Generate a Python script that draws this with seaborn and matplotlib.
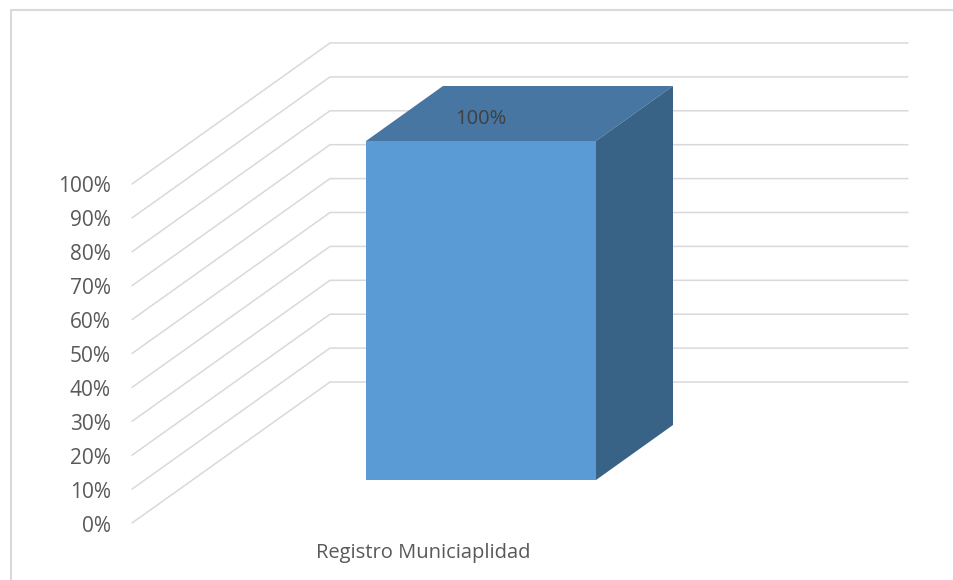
# plot.py
# Excel-style 3D column chart redrawn with seaborn + a bit of matplotlib

import pandas as pd
import matplotlib
matplotlib.use("Agg")
import matplotlib.pyplot as plt
import seaborn as sns
from matplotlib.patches import Polygon
from matplotlib.lines import Line2D
from matplotlib.transforms import IdentityTransform

# -- Data
categories = ["Registro Municiaplidad"]
values = [100]
data_labels = ["100%"]
tick_values = [0, 10, 20, 30, 40, 50, 60, 70, 80, 90, 100]
tick_labels = ["0%", "10%", "20%", "30%", "40%", "50%", "60%", "70%", "80%", "90%", "100%"]

# -- Settings
W, H = 954, 580
FRONT = "#5B9BD5"
TOP = "#4676A1"
SIDE = "#386386"
GRID = "#D9D9D9"
TEXT = "#595959"

# 3d depth offsets in pixels (x right, y up), relative to the bar's front face
BAR_DEPTH = (77, 55)
WALL = (138, 98)
FRONT_PLANE = (-60, -43)
FRONT_X = 132      # left end of the floor lines
WALL_RIGHT = 908   # right end of the back wall lines


def main():
    sns.set_theme(style="white")
    plt.rcParams["font.family"] = ["Open Sans", "DejaVu Sans"]

    fig = plt.figure(figsize=(W / 100, H / 100), dpi=100)
    ax = fig.add_axes([366 / W, 100 / H, 230 / W, 339 / H])

    df = pd.DataFrame({"cat": categories, "val": values})
    sns.barplot(data=df, x="cat", y="val", color=FRONT, saturation=1,
                width=0.8, linewidth=0, ax=ax, zorder=3)
    ax.set_xlim(-0.4, 0.4)
    ax.set_ylim(0, 100)
    ax.axis("off")

    ident = IdentityTransform()

    def px(x, y):
        return ax.transData.transform((x, y))

    # gridlines: floor diagonal + back wall
    for v, lab in zip(tick_values, tick_labels):
        by = px(0, v)[1]
        fy = by + FRONT_PLANE[1]
        wy = by + WALL[1]
        wx = FRONT_X + (WALL[0] - FRONT_PLANE[0])
        ln = Line2D([FRONT_X, wx, WALL_RIGHT], [fy, wy, wy], color=GRID,
                    lw=1.1, transform=ident, clip_on=False, zorder=1)
        ax.add_line(ln)
        ax.text(111, fy - 3, lab, ha="right", va="center", fontsize=15,
                color=TEXT, transform=ident, clip_on=False)

    # side + top faces of each bar
    for p, lab in zip(ax.patches, data_labels):
        x0 = p.get_x()
        x1 = x0 + p.get_width()
        y1 = p.get_y() + p.get_height()
        dx, dy = BAR_DEPTH
        tl = px(x0, y1)
        tr = px(x1, y1)
        br = px(x1, p.get_y())
        top = [tl, tr, (tr[0] + dx, tr[1] + dy), (tl[0] + dx, tl[1] + dy)]
        side = [br, tr, (tr[0] + dx, tr[1] + dy), (br[0] + dx, br[1] + dy)]
        ax.add_patch(Polygon(top, closed=True, facecolor=TOP, edgecolor="none",
                             transform=ident, clip_on=False, zorder=3))
        ax.add_patch(Polygon(side, closed=True, facecolor=SIDE, edgecolor="none",
                             transform=ident, clip_on=False, zorder=3))
        cx = (tl[0] + tr[0]) / 2
        ax.text(cx, tl[1] + 22, lab, ha="center", va="center", fontsize=14.5,
                color="#404040", transform=ident, clip_on=False, zorder=4)

    # category label on the front plane
    for i, cat in enumerate(categories):
        bx, by = px(i, 0)
        ax.text(bx + FRONT_PLANE[0] + 2, by + FRONT_PLANE[1] - 30, cat,
                ha="center", va="center", fontsize=14.5, color=TEXT,
                transform=ident, clip_on=False)

    # chart frame (only top and left edges are visible in the screenshot)
    fig.add_artist(Line2D([11 / W, 11 / W, 1], [0, 1 - 10 / H, 1 - 10 / H],
                          color="#D9D9D9", lw=1.5, transform=fig.transFigure))

    fig.savefig("out.png", dpi=100)
    plt.close(fig)


if __name__ == "__main__":
    main()
